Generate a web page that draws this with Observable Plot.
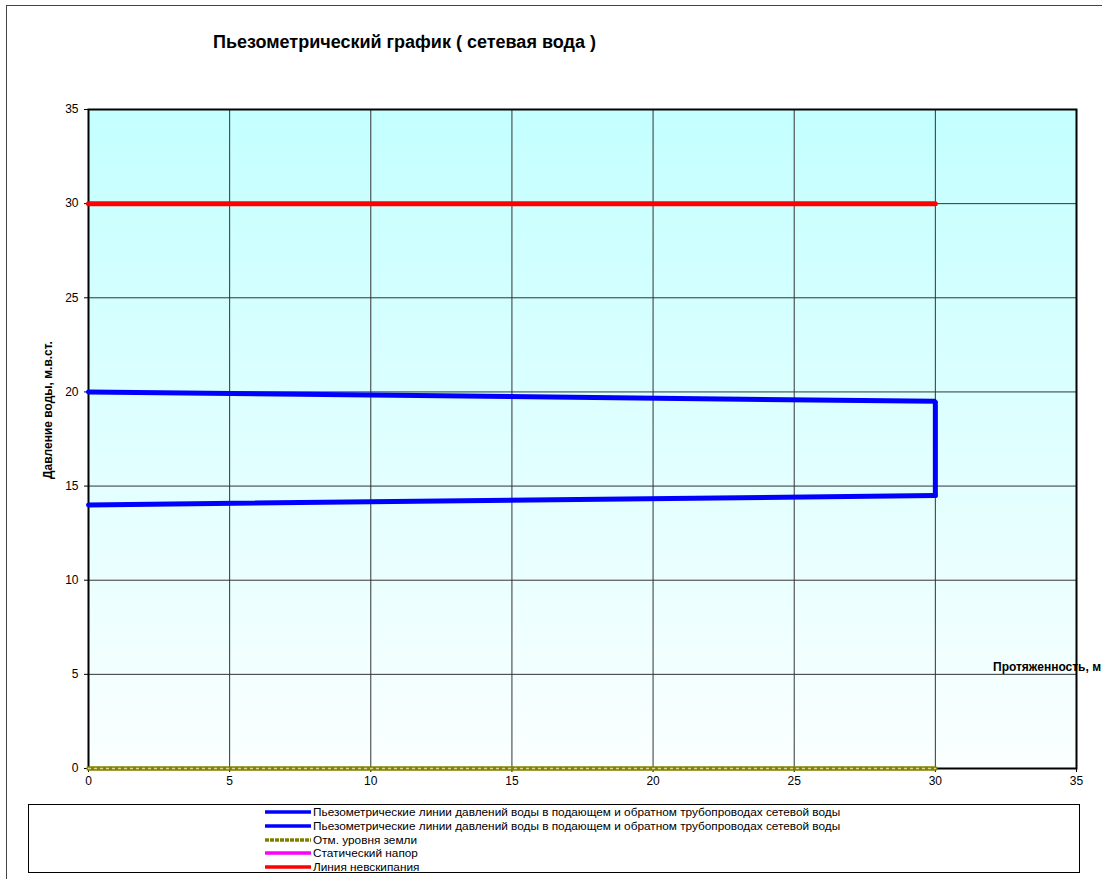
<!DOCTYPE html>
<html>
<head>
<meta charset="utf-8">
<script src="https://cdn.jsdelivr.net/npm/d3@7"></script>
<script src="https://cdn.jsdelivr.net/npm/@observablehq/plot@0.6"></script>
<style>
  html, body { margin: 0; padding: 0; background: #fff; }
  body { width: 1102px; height: 879px; overflow: hidden; font-family: "Liberation Sans", Arial, sans-serif; }
  #wrap { position: relative; width: 1102px; height: 879px; overflow: hidden; }
  #outer { position: absolute; left: 6px; top: 5px; width: 1200px; height: 1000px; border: 1px solid #444; box-sizing: border-box; }
  #title { position: absolute; left: 213px; top: 31px; font-weight: bold; font-size: 18px; line-height: 22px; color: #000; white-space: nowrap; }
  #chart { position: absolute; left: 0; top: 0; }
  #ylab { position: absolute; left: 48px; top: 410px; transform: translate(-50%, -50%) rotate(-90deg); font-weight: bold; font-size: 12px; white-space: nowrap; }
  #xlab { position: absolute; left: 993px; top: 659px; font-weight: bold; font-size: 12px; line-height: 16px; white-space: nowrap; }
  #legend { position: absolute; left: 28px; top: 804px; width: 1052px; height: 69px; border: 1px solid #000; box-sizing: border-box; background: #fff; }
  .row { position: absolute; left: 236px; height: 14px; display: flex; align-items: center; font-size: 11.8px; white-space: nowrap; }
  .row svg { margin-right: 2px; }
</style>
</head>
<body>
<div id="wrap">
  <div id="outer"></div>
  <div id="chart"></div>
  <div id="title">Пьезометрический график ( сетевая вода )</div>
  <div id="ylab">Давление воды, м.в.ст.</div>
  <div id="xlab">Протяженность, м</div>
  <div id="legend"></div>
</div>
<script>
// Tick values
const xTicks = [0, 5, 10, 15, 20, 25, 30, 35];
const yTicks = [0, 5, 10, 15, 20, 25, 30, 35];

// Series: supply line (with vertical closure at end) and return line
const supplyX = [0, 30, 30];
const supplyY = [20, 19.5, 14.5];
const returnX = [0, 30];
const returnY = [14, 14.5];
// Ground level
const groundX = [0, 30];
const groundY = [0, 0];
// Non-boiling line
const boilX = [0, 30];
const boilY = [30, 30];

const legendNames = [
  "Пьезометрические линии давлений воды в подающем и обратном трубопроводах сетевой воды",
  "Пьезометрические линии давлений воды в подающем и обратном трубопроводах сетевой воды",
  "Отм. уровня земли",
  "Статический напор",
  "Линия невскипания"
];
const legendColors = ["#0000ff", "#0000ff", "#808000", "#ff00ff", "#ff0000"];

const toPts = (xs, ys) => xs.map((x, i) => ({x, y: ys[i]}));
const supply = toPts(supplyX, supplyY);
const ret = toPts(returnX, returnY);
const ground = toPts(groundX, groundY);
const boil = toPts(boilX, boilY);

const plot = Plot.plot({
  width: 1102,
  height: 879,
  marginLeft: 88,
  marginRight: 26,
  marginTop: 109,
  marginBottom: 111,
  style: { fontFamily: "'Liberation Sans', Arial, sans-serif", fontSize: "12px", background: "transparent", color: "#000" },
  x: { domain: [0, 35] },
  y: { domain: [0, 35] },
  marks: [
    Plot.frame({ fill: "url(#bggrad)", stroke: "none" }),
    Plot.gridX(xTicks, { stroke: "#333", strokeOpacity: 1, strokeWidth: 1 }),
    Plot.gridY(yTicks, { stroke: "#333", strokeOpacity: 1, strokeWidth: 1 }),
    Plot.axisX({ ticks: xTicks, tickSize: 4, tickPadding: 4, label: null, tickFormat: d => String(d) }),
    Plot.axisY({ ticks: yTicks, tickSize: 4, tickPadding: 6, label: null, tickFormat: d => String(d) }),
    Plot.frame({ stroke: "#000", strokeWidth: 2 }),
    Plot.line(ground, { x: "x", y: "y", stroke: "#808000", strokeWidth: 4.5 }),
    Plot.line(ground, { x: "x", y: "y", stroke: "#d8d890", strokeWidth: 1.5, strokeDasharray: "2,4" }),
    Plot.line(boil, { x: "x", y: "y", stroke: "#ff0000", strokeWidth: 5, strokeLinecap: "round" }),
    Plot.line(supply, { x: "x", y: "y", stroke: "#0000ff", strokeWidth: 5, strokeLinejoin: "miter" }),
    Plot.line(ret, { x: "x", y: "y", stroke: "#0000ff", strokeWidth: 5 })
  ]
});

// gradient definition for plot background
const ns = "http://www.w3.org/2000/svg";
const defs = document.createElementNS(ns, "defs");
defs.innerHTML = '<linearGradient id="bggrad" x1="0" y1="0" x2="0" y2="1">' +
  '<stop offset="0" stop-color="#c4ffff"/><stop offset="1" stop-color="#fbffff"/></linearGradient>';
plot.insertBefore(defs, plot.firstChild);
document.getElementById("chart").appendChild(plot);

// legend
const leg = document.getElementById("legend");
const rowTops = [0, 14, 28, 41, 55];
legendNames.forEach((name, i) => {
  const row = document.createElement("div");
  row.className = "row";
  row.style.top = rowTops[i] + "px";
  const dash = i === 2 ? ' stroke-dasharray="4,1"' : '';
  row.innerHTML = `<svg width="46" height="6"><line x1="0" y1="3" x2="46" y2="3" stroke="${legendColors[i]}" stroke-width="3.5"${dash}/></svg><span>${name}</span>`;
  leg.appendChild(row);
});
</script>
</body>
</html>
